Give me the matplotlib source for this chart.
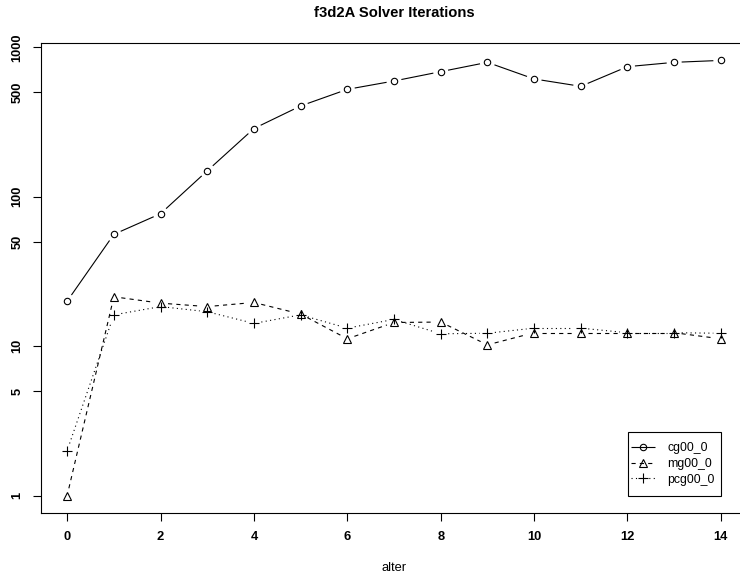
import numpy as np
import matplotlib
matplotlib.use('Agg')
import matplotlib.pyplot as plt
from matplotlib.lines import Line2D
from matplotlib.patches import Rectangle
from matplotlib.transforms import offset_copy, IdentityTransform
from matplotlib.ticker import NullLocator, FixedLocator, FixedFormatter

# ---- data ----
alter = list(range(15))
cg00_0 = [20, 56, 77, 149, 286, 405, 523, 595, 687, 793, 614, 548, 742, 793, 817]
mg00_0 = [1, 21.4, 19.4, 18.4, 19.6, 16.4, 11.2, 14.4, 14.5, 10.2, 12.3, 12.3, 12.3, 12.3, 11.2]
pcg00_0 = [2, 16.2, 18.4, 17.0, 14.2, 16.2, 13.2, 15.1, 12.1, 12.2, 13.2, 13.2, 12.3, 12.3, 12.2]
series_names = ["cg00_0", "mg00_0", "pcg00_0"]
xticks = [0, 2, 4, 6, 8, 10, 12, 14]
yticks = [1, 5, 10, 50, 100, 500, 1000]
title = "f3d2A Solver Iterations"
xlabel = "alter"

plt.rcParams['font.family'] = ['Liberation Sans', 'DejaVu Sans']
plt.rcParams['lines.scale_dashes'] = False

W, H = 740, 578
fig = plt.figure(figsize=(W / 100, H / 100), dpi=100)
ax = fig.add_axes([41 / W, 65 / H, 706 / W, 470 / H])

ax.set_yscale('log')
x = np.array(alter, dtype=float)
xr = x.max() - x.min()
ax.set_xlim(x.min() - 0.04 * xr, x.max() + 0.04 * xr)
allv = np.concatenate([cg00_0, mg00_0, pcg00_0])
lo, hi = np.log10(allv.min()), np.log10(allv.max())
d = 0.04 * (hi - lo)
ax.set_ylim(10 ** (lo - d), 10 ** (hi + d))

lw = 0.8
GAP = 7.5  # px gap between point and connecting line (R type="b")


def gapped(xv, yv, **kw):
    pts = ax.transData.transform(np.column_stack([xv, yv]))
    inv = ax.transData.inverted()
    for p0, p1 in zip(pts[:-1], pts[1:]):
        dd = p1 - p0
        L = np.hypot(*dd)
        if L <= 2 * GAP:
            continue
        u = dd / L
        seg = inv.transform(np.vstack([p0 + u * GAP, p1 - u * GAP]))
        ax.plot(seg[:, 0], seg[:, 1], color='black', lw=lw, **kw)


styles = [
    dict(marker='o', ms=4.6, ls=(0, ())),
    dict(marker='^', ms=6.0, ls=(0, (3.0, 3.0))),
    dict(marker='+', ms=7.5, ls=(0, (0.8, 2.4))),
]
data = [cg00_0, mg00_0, pcg00_0]
handles = []
for yv, st, name in zip(data, styles, series_names):
    gapped(x, yv, linestyle=st['ls'])
    ax.plot(x, yv, linestyle='none', marker=st['marker'], ms=st['ms'],
            mfc='none', mec='black', mew=lw)
    handles.append(Line2D([], [], color='black', lw=lw, linestyle=st['ls'],
                          marker=st['marker'], ms=st['ms'], mfc='none',
                          mec='black', mew=lw, label=name))

ax.yaxis.set_minor_locator(NullLocator())
ax.yaxis.set_major_locator(FixedLocator(yticks))
ax.yaxis.set_major_formatter(FixedFormatter([str(t) for t in yticks]))
ax.set_xticks(xticks)
ax.set_xticklabels([str(t) for t in xticks])
ax.tick_params(axis='both', direction='out', length=5.8, width=lw,
               labelsize=9.3, pad=6.8)
for lab in ax.get_xticklabels():
    lab.set_fontweight('bold')
for lab in ax.get_yticklabels():
    lab.set_fontweight('bold')
    lab.set_rotation(90)
    lab.set_va('center')
    lab.set_ha('right')
for sp in ax.spines.values():
    sp.set_linewidth(lw)
    sp.set_color('black')

PAD_L, PAD_R, PAD_V = 3, 6, 10
leg = ax.legend(handles=handles, loc='lower right',
                bbox_to_anchor=(14, 1),
                bbox_transform=offset_copy(ax.transData, fig, x=-PAD_R, y=PAD_V, units='dots'),
                fontsize=8.8, frameon=False,
                borderpad=0, labelspacing=0.3, handlelength=1.95,
                handletextpad=1.0, borderaxespad=0, numpoints=1)

fig.text((41 + 747) / 2 / W, 1 - 17.3 / H, title, ha='center', va='baseline',
         fontsize=10.6, fontweight='bold')
fig.text((41 + 747) / 2 / W, 1 - 571 / H, xlabel, ha='center', va='baseline',
         fontsize=9.3)

fig.canvas.draw()
ext = leg.get_window_extent()
frame = Rectangle((ext.x0 - PAD_L, ext.y0 - PAD_V),
                  ext.width + PAD_L + PAD_R, ext.height + 2 * PAD_V,
                  transform=IdentityTransform(), facecolor='white',
                  edgecolor='black', lw=lw, zorder=4)
fig.add_artist(frame)
leg.remove()
fig.add_artist(leg)
leg.set_zorder(6)

fig.savefig('out.png', dpi=100, facecolor='white')
